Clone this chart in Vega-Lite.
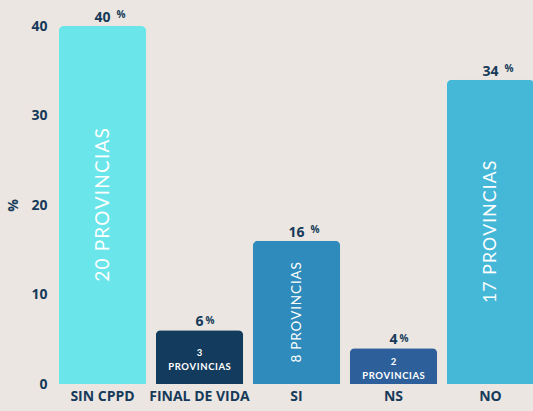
{
  "$schema": "https://vega.github.io/schema/vega-lite/v6.json",
  "width": 479,
  "height": 358,
  "autosize": {"type": "none"},
  "padding": {"left": 54, "top": 26, "right": 0, "bottom": 27},
  "background": "#ebe6e1",
  "config": {
    "view": {"stroke": null},
    "font": "Open Sans"
  },
  "data": {
    "values": [
      {"cat": "SIN CPPD", "value": 40, "prov": "2\u200a0\u200a \u200aP\u200aR\u200aO\u200aV\u200aI\u200aN\u200aC\u200aI\u200aA\u200aS"},
      {"cat": "FINAL DE VIDA", "value": 6, "prov": "3\nP\u200aR\u200aO\u200aV\u200aI\u200aN\u200aC\u200aI\u200aA\u200aS"},
      {"cat": "SI", "value": 16, "prov": "8\u200a \u200aP\u200aR\u200aO\u200aV\u200aI\u200aN\u200aC\u200aI\u200aA\u200aS"},
      {"cat": "NS", "value": 4, "prov": "2\nP\u200aR\u200aO\u200aV\u200aI\u200aN\u200aC\u200aI\u200aA\u200aS"},
      {"cat": "NO", "value": 34, "prov": "1\u200a7\u200a \u200aP\u200aR\u200aO\u200aV\u200aI\u200aN\u200aC\u200aI\u200aA\u200aS"}
    ]
  },
  "encoding": {
    "x": {
      "field": "cat", "type": "nominal", "sort": null,
      "scale": {"range": [0, 485], "paddingInner": 0.1, "paddingOuter": 0.05},
      "axis": {"title": null, "labelAngle": 0, "domain": false, "ticks": false,
        "labelFont": "Open Sans", "labelFontWeight": "bold", "labelFontSize": 14,
        "labelColor": "#163a5a", "labelPadding": 5}
    }
  },
  "layer": [
    {
      "mark": {"type": "bar", "cornerRadiusTopLeft": 5, "cornerRadiusTopRight": 5},
      "encoding": {
        "y": {"field": "value", "type": "quantitative",
          "scale": {"domain": [0, 40], "nice": false},
          "axis": {"title": "%", "titleAngle": -90, "titleFontWeight": "bold", "titleFontSize": 14,
            "titleColor": "#163a5a", "titlePadding": 10,
            "values": [0, 10, 20, 30, 40], "grid": false, "domain": false, "ticks": false,
            "labelFontWeight": "bold", "labelFontSize": 14, "labelColor": "#163a5a", "labelPadding": 7}},
        "color": {"field": "cat", "type": "nominal", "legend": null,
          "scale": {"domain": ["SIN CPPD", "FINAL DE VIDA", "SI", "NS", "NO"],
            "range": ["#6ae6ea", "#133b5d", "#2e8bbc", "#2d5f9b", "#45b8d8"]}}
      }
    },
    {
      "mark": {"type": "text", "baseline": "alphabetic", "dy": -4, "fontSize": 14, "fontWeight": "bold", "color": "#163a5a"},
      "encoding": {
        "y": {"field": "value", "type": "quantitative"},
        "text": {"field": "value", "type": "quantitative"}
      }
    },
    {
      "transform": [{"filter": "datum.value >= 10"}],
      "mark": {"type": "text", "baseline": "alphabetic", "align": "left", "dy": -8, "dx": 14, "fontSize": 10, "fontWeight": "bold", "color": "#163a5a"},
      "encoding": {
        "y": {"field": "value", "type": "quantitative"},
        "text": {"value": "%"}
      }
    },
    {
      "transform": [{"filter": "datum.value < 10"}],
      "mark": {"type": "text", "baseline": "alphabetic", "align": "left", "dy": -6, "dx": 6, "fontSize": 10, "fontWeight": "bold", "color": "#163a5a"},
      "encoding": {
        "y": {"field": "value", "type": "quantitative"},
        "text": {"value": "%"}
      }
    },
    {
      "transform": [{"filter": "datum.value >= 10"}, {"calculate": "datum.value / 2", "as": "mid"}],
      "mark": {"type": "text", "angle": 270, "baseline": "middle", "align": "center", "font": "Lato", "color": "white"},
      "encoding": {
        "y": {"field": "mid", "type": "quantitative"},
        "text": {"field": "prov", "type": "nominal"},
        "size": {"field": "value", "type": "quantitative", "legend": null,
          "scale": {"type": "linear", "domain": [16, 40], "range": [13.5, 19], "zero": false}}
      }
    },
    {
      "transform": [{"filter": "datum.value < 10"}, {"calculate": "datum.value / 2", "as": "mid"}],
      "mark": {"type": "text", "baseline": "middle", "align": "center", "font": "Lato", "fontSize": 9.5, "fontWeight": "bold", "lineBreak": "\n", "lineHeight": 14, "dy": -4, "color": "white"},
      "encoding": {
        "y": {"field": "mid", "type": "quantitative"},
        "text": {"field": "prov", "type": "nominal"}
      }
    }
  ]
}
